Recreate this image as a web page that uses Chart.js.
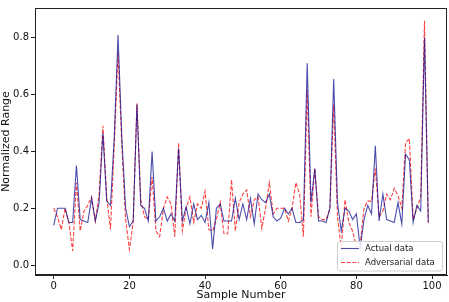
<!DOCTYPE html>
<html>
<head>
<meta charset="utf-8">
<script src="https://cdn.jsdelivr.net/npm/chart.js@4"></script>
<style>
  html, body { margin: 0; padding: 0; background: #fff; }
  #wrap { width: 449px; height: 302px; }
</style>
</head>
<body>
<div id="wrap"><canvas id="chart" width="449" height="302"></canvas></div>
<script>
// values
const sampleNumbers = Array.from({ length: 100 }, (_, i) => i);
const xTicks = [0, 20, 40, 60, 80, 100];
const yTicks = [0.0, 0.2, 0.4, 0.6, 0.8];

const actualData = [
  0.14, 0.20, 0.20, 0.20, 0.15, 0.15, 0.35, 0.16, 0.155, 0.15,
  0.235, 0.155, 0.22, 0.465, 0.225, 0.21, 0.45, 0.81, 0.45, 0.20,
  0.135, 0.155, 0.565, 0.21, 0.20, 0.155, 0.40, 0.155, 0.17, 0.20,
  0.155, 0.18, 0.155, 0.41, 0.155, 0.205, 0.145, 0.215, 0.16, 0.175,
  0.15, 0.22, 0.057, 0.20, 0.215, 0.155, 0.155, 0.155, 0.235, 0.16,
  0.215, 0.16, 0.235, 0.145, 0.25, 0.23, 0.22, 0.25, 0.17, 0.155,
  0.165, 0.20, 0.18, 0.20, 0.15, 0.15, 0.16, 0.71, 0.22, 0.34,
  0.155, 0.155, 0.15, 0.20, 0.655, 0.22, 0.12, 0.20, 0.19, 0.16,
  0.18, 0.06, 0.16, 0.21, 0.18, 0.42, 0.155, 0.25, 0.16, 0.155,
  0.15, 0.22, 0.145, 0.39, 0.37, 0.15, 0.21, 0.19, 0.80, 0.15
];

const adversarialData = [
  0.20, 0.17, 0.125, 0.20, 0.15, 0.05, 0.29, 0.12, 0.19, 0.21,
  0.24, 0.155, 0.25, 0.49, 0.24, 0.125, 0.42, 0.75, 0.42, 0.16,
  0.055, 0.15, 0.57, 0.23, 0.17, 0.16, 0.31, 0.12, 0.10, 0.20,
  0.24, 0.215, 0.10, 0.43, 0.12, 0.20, 0.24, 0.15, 0.215, 0.20,
  0.26, 0.125, 0.12, 0.16, 0.22, 0.11, 0.11, 0.30, 0.12, 0.22,
  0.25, 0.265, 0.17, 0.23, 0.24, 0.13, 0.20, 0.29, 0.18, 0.20,
  0.20, 0.20, 0.155, 0.20, 0.29, 0.25, 0.10, 0.615, 0.17, 0.34,
  0.17, 0.16, 0.16, 0.20, 0.565, 0.17, 0.06, 0.23, 0.15, 0.12,
  0.065, 0.07, 0.20, 0.225, 0.225, 0.34, 0.17, 0.19, 0.25, 0.23,
  0.27, 0.245, 0.20, 0.43, 0.445, 0.16, 0.20, 0.24, 0.86, 0.15
];

const FONT = 'DejaVu Sans';

// matplotlib style box round the plot
const framePlugin = {
  id: 'frame',
  afterDraw(chart) {
    const { ctx, chartArea: a } = chart;
    ctx.save();
    ctx.strokeStyle = '#222';
    ctx.lineWidth = 1;
    ctx.strokeRect(Math.round(a.left) + 0.5, Math.round(a.top) + 0.5,
      Math.round(a.right - a.left) - 1, Math.round(a.bottom - a.top) - 1);
    ctx.restore();
  }
};

// legend in the lower right corner, inside the plot
const legendBox = {
  id: 'legendBox',
  afterDraw(chart) {
    const { ctx, chartArea: a } = chart;
    const w = 105, h = 29.5;
    const x = a.right - 110, y = a.bottom - 34;
    ctx.save();
    ctx.beginPath();
    ctx.roundRect(x + 0.5, y + 0.5, w, h, 2.5);
    ctx.fillStyle = 'rgba(255,255,255,0.85)';
    ctx.fill();
    ctx.strokeStyle = '#d0d0d0';
    ctx.lineWidth = 1;
    ctx.stroke();
    ctx.font = '8.5px ' + FONT;
    ctx.textBaseline = 'middle';
    chart.data.datasets.forEach((ds, i) => {
      const ly = y + 7.5 + i * 14;
      ctx.beginPath();
      ctx.setLineDash(ds.borderDash || []);
      ctx.strokeStyle = ds.borderColor;
      ctx.lineWidth = ds.borderWidth;
      ctx.moveTo(x + 4, ly);
      ctx.lineTo(x + 22, ly);
      ctx.stroke();
      ctx.setLineDash([]);
      ctx.fillStyle = '#222';
      ctx.fillText(ds.label, x + 28, ly);
    });
    ctx.restore();
  }
};

new Chart(document.getElementById('chart'), {
  type: 'line',
  data: {
    labels: sampleNumbers,
    datasets: [
      {
        label: 'Actual data',
        data: actualData,
        borderColor: 'rgba(0,0,139,0.7)',
        borderWidth: 1.1,
        pointRadius: 0,
        tension: 0
      },
      {
        label: 'Adversarial data',
        data: adversarialData,
        borderColor: 'rgba(255,0,0,0.75)',
        borderWidth: 1.1,
        borderDash: [4, 1.7],
        pointRadius: 0,
        tension: 0
      }
    ]
  },
  options: {
    responsive: false,
    animation: false,
    layout: { padding: { top: 3, right: 2, left: 0, bottom: 0 } },
    plugins: {
      legend: { display: false },
      tooltip: { enabled: false }
    },
    scales: {
      x: {
        type: 'linear',
        min: -4.95,
        max: 103.95,
        afterBuildTicks: (s) => { s.ticks = xTicks.map(v => ({ value: v })); },
        afterFit: (s) => { s.height = 27; },
        ticks: {
          color: '#111',
          font: { family: FONT, size: 10 },
          padding: 1,
          maxRotation: 0,
          callback: (v) => String(v)
        },
        grid: { drawOnChartArea: false, drawTicks: true, tickLength: 4, tickColor: '#222' },
        border: { display: true, color: '#222' },
        title: {
          display: true,
          text: 'Sample Number',
          color: '#111',
          font: { family: FONT, size: 11 },
          padding: { top: 0, bottom: 0 }
        }
      },
      y: {
        min: -0.035,
        max: 0.905,
        afterBuildTicks: (s) => { s.ticks = yTicks.map(v => ({ value: v })); },
        afterFit: (s) => { s.width = 35; },
        ticks: {
          color: '#111',
          font: { family: FONT, size: 10 },
          padding: 2,
          callback: (v) => Number(v).toFixed(1)
        },
        grid: { drawOnChartArea: false, drawTicks: true, tickLength: 4, tickColor: '#222' },
        border: { display: true, color: '#222' },
        title: {
          display: true,
          text: 'Normalized Range',
          color: '#111',
          font: { family: FONT, size: 11 },
          padding: { top: 0, bottom: 0 }
        }
      }
    }
  },
  plugins: [framePlugin, legendBox]
});
</script>
</body>
</html>
